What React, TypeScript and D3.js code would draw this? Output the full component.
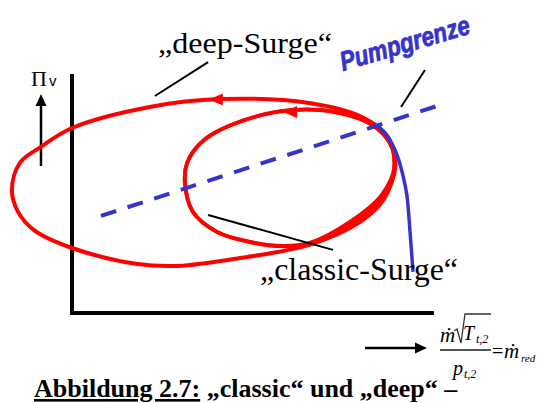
import React from 'react';
import * as d3 from 'd3';

type Pt = [number, number];

// orbits in the compressor map (x: reduced mass flow, y: pressure ratio, both 0..100)
const deepSurgeLoop: Pt[] = [
  [89.0, 60.7], [87.3, 73.6], [80.1, 82.0], [65.5, 87.9], [40.9, 89.5],
  [21.5, 86.2], [0, 77.4], [-8.6, 69.5], [-14.4, 62.8], [-16.6, 51.5],
  [-14.9, 42.3], [-10.5, 34.7], [0, 27.2], [18.0, 20.5], [29.3, 19.7],
  [46.4, 23.0], [65.5, 28.5], [79.6, 38.1], [86.2, 47.7],
];

const classicSurgeLoop: Pt[] = [
  [89.2, 61.9], [87.8, 71.1], [82.9, 78.7], [74.0, 83.7], [60.8, 84.9],
  [47.8, 80.8], [36.5, 72.4], [31.8, 62.8], [31.2, 54.4], [33.4, 42.3],
  [40.1, 33.9], [49.2, 29.7], [58.3, 28.0], [65.7, 29.3], [76.8, 38.1],
  [85.6, 49.4],
];

const classicSurgeLoop2: Pt[] = [
  [89.4, 61.2], [87.8, 71.1], [82.9, 78.7], [74.0, 83.7], [60.8, 84.9],
  [47.8, 80.8], [36.5, 72.4], [31.8, 62.8], [31.2, 54.4], [33.4, 42.3],
  [40.1, 33.9], [49.2, 29.7], [58.3, 27.8], [66.0, 28.7], [77.2, 37.3],
  [86.2, 48.8],
];

const surgeLine: Pt[] = [
  [84.3, 78.7], [87.3, 73.6], [89.8, 66.1], [91.4, 57.7], [92.5, 49.4],
  [93.4, 33.5], [94.2, 17.2],
];

const throttleLine: Pt[] = [[8.0, 40.6], [100.8, 86.6]];

// arrow tips showing the direction of the orbits
const loopArrows: Pt[] = [[37.8, 89.3], [58.3, 84.1]];

// label leader lines [from, to]
const leaders: [Pt, Pt][] = [
  [[37.6, 105.0], [22.9, 90.8]],
  [[37.6, 41.0], [72.1, 26.4]],
  [[97.5, 101.7], [90.9, 86.2]],
];

const RED = '#ff0000';
const BLUE = '#3535cc';
const SERIF = '"Liberation Serif", "Times New Roman", "DejaVu Serif", serif';
const SANS = '"Liberation Sans", Arial, sans-serif';

export default function App() {
  const W = 538;
  const H = 403;

  const x = d3.scaleLinear().domain([0, 100]).range([72, 434]);
  const y = d3.scaleLinear().domain([0, 100]).range([313, 74]);

  const loop = d3.line<Pt>()
    .x(d => x(d[0]))
    .y(d => y(d[1]))
    .curve(d3.curveCatmullRomClosed.alpha(0.5));

  const open = d3.line<Pt>()
    .x(d => x(d[0]))
    .y(d => y(d[1]))
    .curve(d3.curveCatmullRom.alpha(0.5));

  const straight = d3.line<Pt>().x(d => x(d[0])).y(d => y(d[1]));

  const axisPath = `M${x(0)},${y(100)} L${x(0)},${y(0)} L${x(100)},${y(0)}`;

  return (
    <svg width={W} height={H} viewBox={`0 0 ${W} ${H}`}
      style={{ position: 'absolute', left: 0, top: 0, background: '#fff' }}>
      {/* axes */}
      <path d={axisPath} fill="none" stroke="#000" strokeWidth={4} strokeLinejoin="miter" />

      {/* Π arrow */}
      <line x1={41} y1={166} x2={41} y2={104} stroke="#000" strokeWidth={2.5} />
      <path d="M41,94 L35.5,106 L46.5,106 Z" fill="#000" />
      <text x={31} y={86} fontFamily={SERIF} fontSize={22}>Π</text>
      <text x={49} y={86} fontFamily={SANS} fontSize={15}>v</text>

      {/* orbits */}
      <path d={loop(deepSurgeLoop) || ''} fill="none" stroke={RED} strokeWidth={4} />
      <path d={loop(classicSurgeLoop) || ''} fill="none" stroke={RED} strokeWidth={4} />
      <path d={loop(classicSurgeLoop2) || ''} fill="none" stroke={RED} strokeWidth={3.5} />
      {loopArrows.map((a, i) => (
        <path key={i} transform={`translate(${x(a[0])},${y(a[1])})`}
          d="M0,0 L14,-6 L14,6 Z" fill={RED} />
      ))}

      {/* surge line and throttle line */}
      <path d={open(surgeLine) || ''} fill="none" stroke={BLUE} strokeWidth={3.5} />
      <path d={straight(throttleLine) || ''} fill="none" stroke={BLUE} strokeWidth={4}
        strokeDasharray="16 12" />

      {/* leaders */}
      {leaders.map((l, i) => (
        <line key={i} x1={x(l[0][0])} y1={y(l[0][1])} x2={x(l[1][0])} y2={y(l[1][1])}
          stroke="#000" strokeWidth={2} />
      ))}

      {/* labels */}
      <text x={158} y={53} fontFamily={SERIF} fontSize={30}
        textLength={174} lengthAdjust="spacingAndGlyphs">„deep-Surge“</text>
      <text x={260} y={280} fontFamily={SERIF} fontSize={31}
        textLength={198} lengthAdjust="spacingAndGlyphs">„classic-Surge“</text>
      <text transform="translate(343,71) rotate(-16.4)"
        fontFamily={SANS} fontWeight="bold" fontStyle="italic"
        fontSize={27} textLength={134} lengthAdjust="spacingAndGlyphs"
        fill={BLUE} stroke={BLUE} strokeWidth={0.8}>Pumpgrenze</text>

      {/* x-axis arrow and formula */}
      <line x1={365} y1={348} x2={416} y2={348} stroke="#000" strokeWidth={2.5} />
      <path d="M427,348 L415,342.5 L415,353.5 Z" fill="#000" />

      <text x={440} y={342} fontFamily={SERIF} fontStyle="italic" fontSize={21}>ṁ</text>
      <path d="M454,331 L457,329 L461,343 L465,314 L491,314" fill="none" stroke="#333" strokeWidth={1.3} />
      <text x={463} y={340} fontFamily={SERIF} fontStyle="italic" fontSize={20}>T</text>
      <text x={476} y={343} fontFamily={SERIF} fontStyle="italic" fontSize={12}>t,2</text>
      <line x1={440} y1={350} x2={491} y2={350} stroke="#555" strokeWidth={1.8} />
      <text x={453} y={375} fontFamily={SERIF} fontStyle="italic" fontSize={20}>p</text>
      <text x={464} y={378} fontFamily={SERIF} fontStyle="italic" fontSize={12}>t,2</text>
      <text x={492} y={358} fontFamily={SERIF} fontSize={20}>=</text>
      <text x={504} y={358} fontFamily={SERIF} fontStyle="italic" fontSize={21}>ṁ</text>
      <text x={521} y={362} fontFamily={SERIF} fontStyle="italic" fontSize={11}>red</text>

      {/* caption */}
      <text x={34} y={397} fontFamily={SERIF} fontWeight="bold" fontSize={26}>
        <tspan style={{ textDecoration: 'underline' }}>Abbildung 2.7:</tspan>
        <tspan> „classic“ und „deep“ –</tspan>
      </text>
    </svg>
  );
}
